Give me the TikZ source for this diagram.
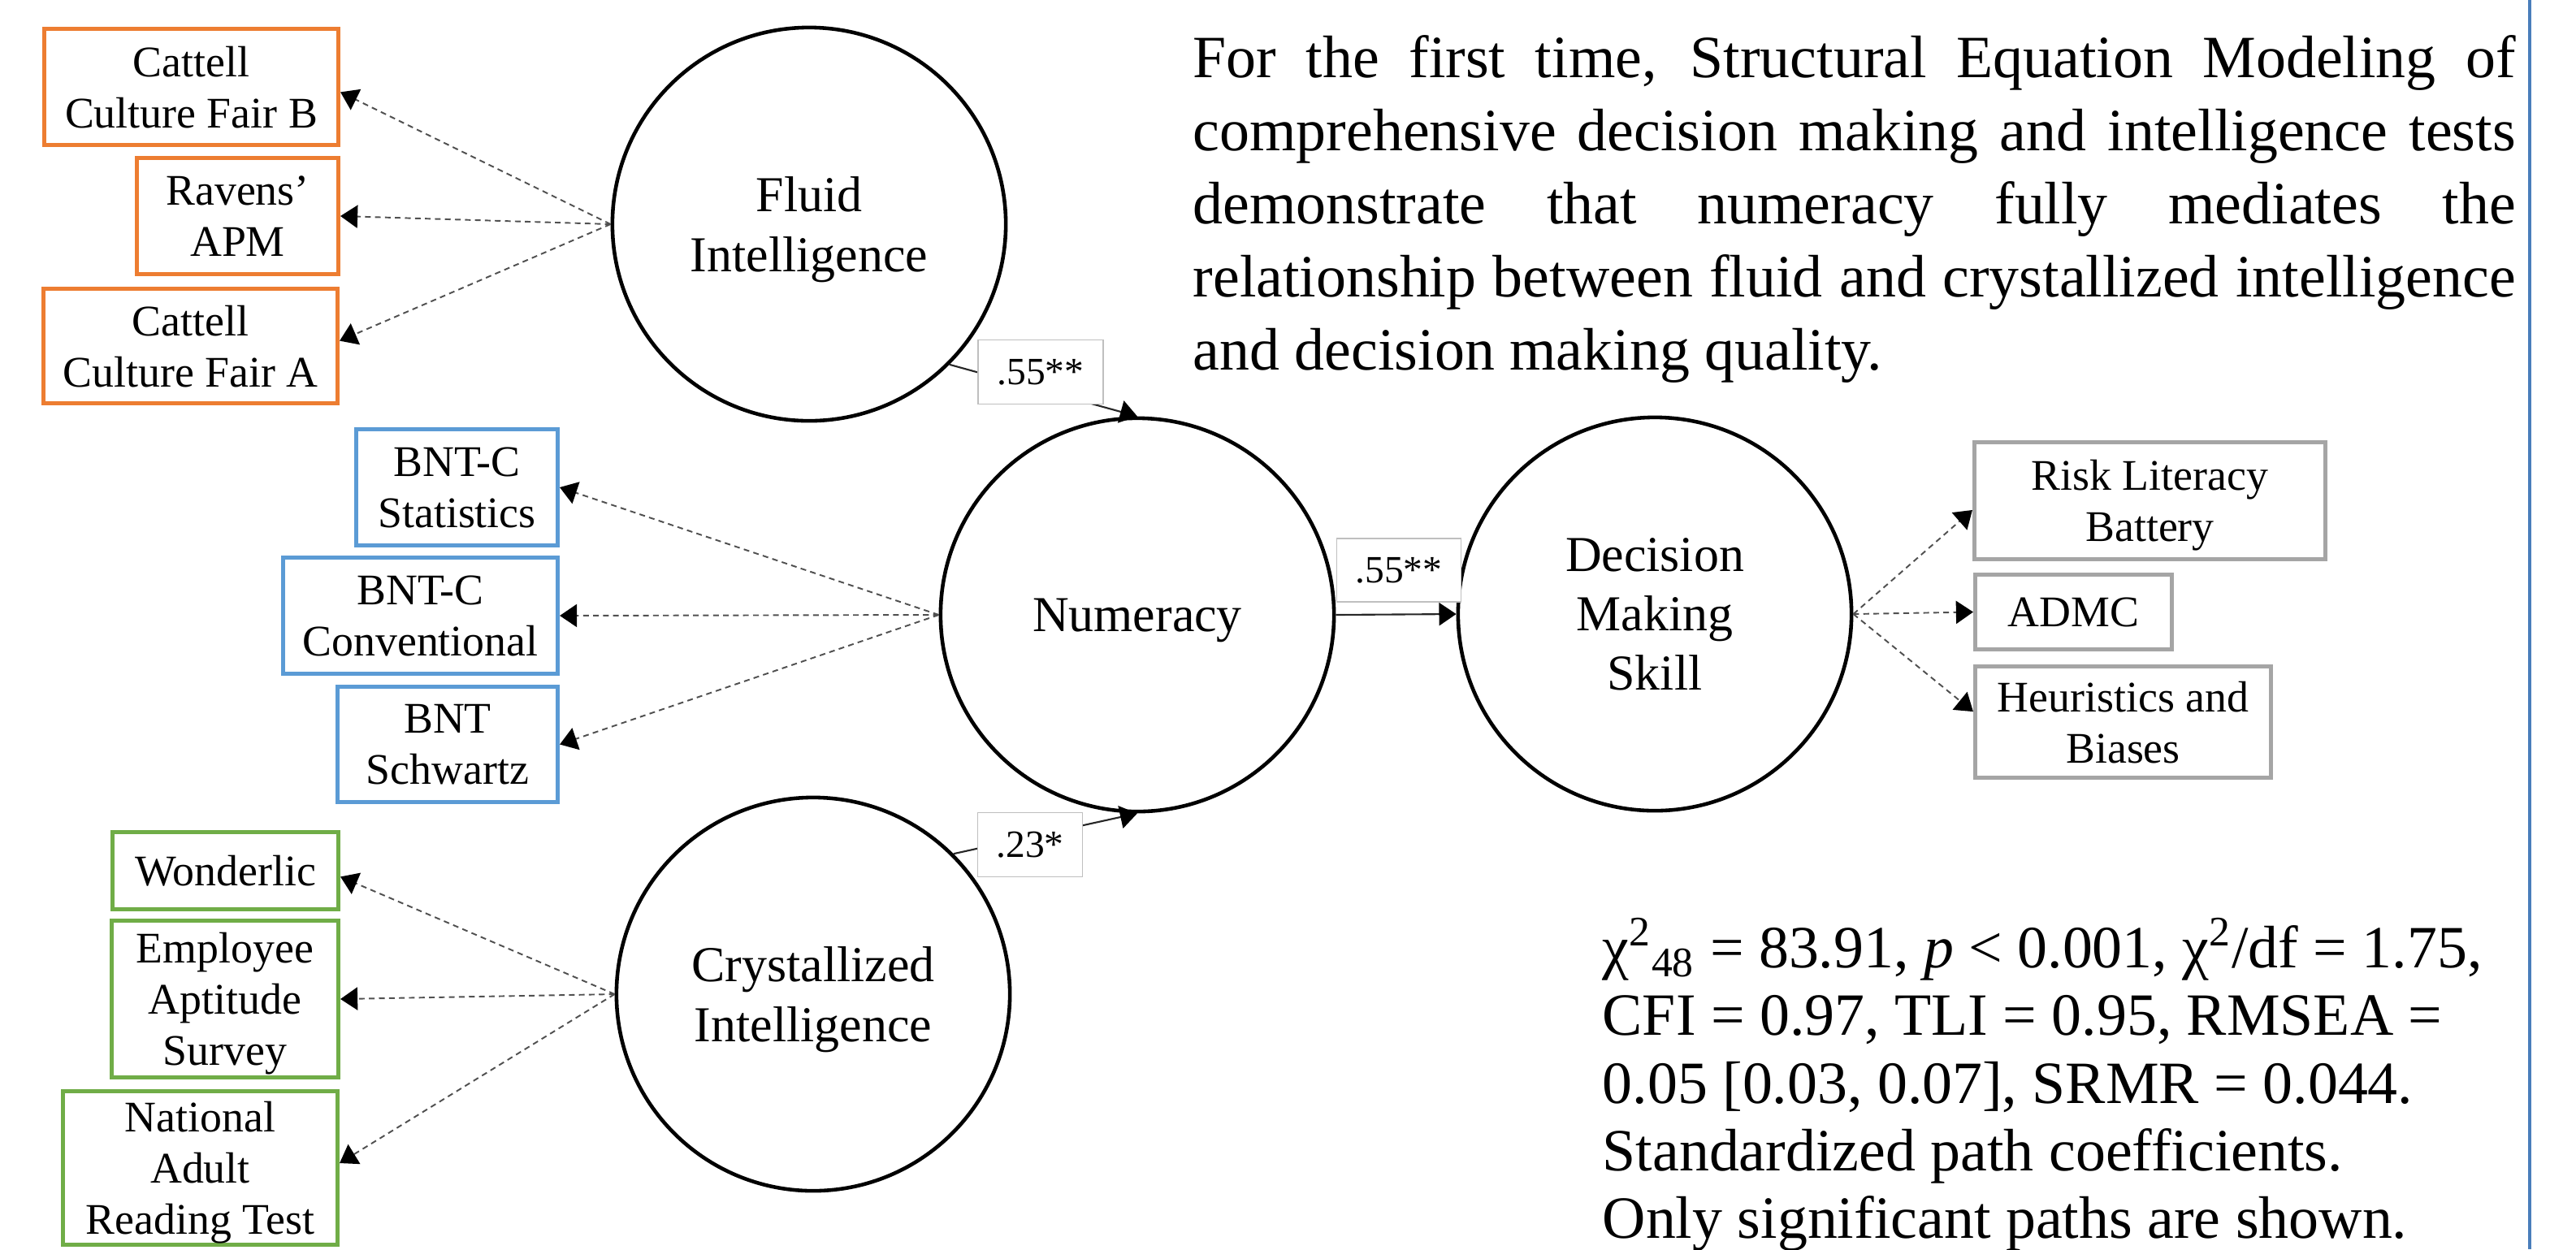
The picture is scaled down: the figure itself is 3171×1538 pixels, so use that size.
\documentclass[tikz,border=0pt]{standalone}
\usepackage{fontspec}
\setmainfont{Liberation Serif}
\usetikzlibrary{arrows.meta}
\definecolor{borange}{RGB}{237,125,49}
\definecolor{bblue}{RGB}{91,155,213}
\definecolor{bgreen}{RGB}{112,173,71}
\definecolor{bgrey}{RGB}{165,165,165}
\definecolor{vlinecol}{RGB}{74,126,187}
\definecolor{lblgrey}{RGB}{191,191,191}
\definecolor{dashgrey}{RGB}{80,80,80}
\tikzset{
  mbox/.style={draw, line width=1.4pt, fill=white, inner sep=0pt, align=center,
    text depth=0pt, font=\fontsize{15.3pt}{18pt}\selectfont},
  obox/.style={mbox, draw=borange},
  bbox/.style={mbox, draw=bblue},
  gbox/.style={mbox, draw=bgreen},
  ybox/.style={mbox, draw=bgrey},
  latent/.style={circle, draw=black, line width=1.3pt, minimum size=4.84cm,
    inner sep=0pt, align=center, text depth=0pt, font=\fontsize{17.6pt}{20.8pt}\selectfont},
  coef/.style={draw=lblgrey, line width=0.45pt, fill=white, inner sep=0pt,
    text depth=0pt, font=\fontsize{13.5pt}{15pt}\selectfont},
  load/.style={draw=dashgrey, line width=0.55pt, dash pattern=on 2pt off 1.5pt,
    -{Triangle[length=6pt,width=8pt,color=black]}},
  regpath/.style={draw=black!85, line width=0.6pt,
    -{Triangle[length=6pt,width=8pt,color=black]}},
  bigtext/.style={inner sep=0pt, font=\fontsize{21pt}{25.6pt}\selectfont}
}
\begin{document}
\begin{tikzpicture}[x=0.01cm,y=-0.01cm]
\fill[white] (0,0) rectangle (3171,1538);
\useasboundingbox (0,0) rectangle (3171,1538);

% right blue rule
\coordinate (vtop) at (3114,0);
\coordinate (vbot) at (3114,1538);
\draw[vlinecol, line width=1.1pt] (vtop) -- (vbot);

% latent variables
\node[latent] (fluid) at (996,276) {Fluid\\Intelligence};
\node[latent] (num) at (1400,757) {Numeracy};
\node[latent] (cryst) at (1001,1224) {Crystallized\\Intelligence};
\node[latent] (dms) at (2037,756) {Decision\\Making\\Skill};

% indicators
\node[obox, minimum width=3.62cm, minimum height=1.43cm] (cattB) at (235.5,107) {Cattell\\Culture Fair B};
\node[obox, minimum width=2.48cm, minimum height=1.43cm] (raven) at (292.5,266) {Ravens’\\APM};
\node[obox, minimum width=3.62cm, minimum height=1.41cm] (cattA) at (234.5,426) {Cattell\\Culture Fair A};

\node[bbox, minimum width=2.48cm, minimum height=1.43cm] (bstat) at (562.5,600) {BNT-C\\Statistics};
\node[bbox, minimum width=3.38cm, minimum height=1.43cm] (bconv) at (517.5,758) {BNT-C\\Conventional};
\node[bbox, minimum width=2.71cm, minimum height=1.42cm] (bschw) at (551,916.5) {BNT\\Schwartz};

\node[gbox, minimum width=2.78cm, minimum height=0.95cm] (wond) at (277.5,1072) {Wonderlic};
\node[gbox, minimum width=2.79cm, minimum height=1.93cm] (eas) at (277,1230) {Employee\\Aptitude\\Survey};
\node[gbox, minimum width=3.38cm, minimum height=1.89cm] (nart) at (246.5,1438) {National\\Adult\\Reading Test};

\node[ybox, minimum width=4.32cm, minimum height=1.44cm] (risk) at (2646.5,616.5) {Risk Literacy\\Battery};
\node[ybox, minimum width=2.42cm, minimum height=0.92cm] (admc) at (2552.5,753.5) {ADMC};
\node[ybox, minimum width=3.64cm, minimum height=1.37cm] (heur) at (2613.5,889) {Heuristics and\\Biases};

% loadings
\draw[load] (fluid.west) -- (cattB.-2);
\draw[load] (fluid.west) -- (raven.east);
\draw[load] (fluid.west) -- (cattA.2);
\draw[load] (num.west) -- (bstat.east);
\draw[load] (num.west) -- (bconv.east);
\draw[load] (num.west) -- (bschw.east);
\draw[load] (cryst.west) -- (wond.-3);
\draw[load] (cryst.west) -- (eas.east);
\draw[load] (cryst.west) -- (nart.2);
\draw[load] (dms.east) -- (risk.183);
\draw[load] (dms.east) -- (admc.west);
\draw[load] (dms.east) -- (heur.176);

% structural paths
\draw[regpath] (fluid.south east) -- (num.north);
\draw[regpath] (cryst.north east) -- (num.south);
\draw[regpath] (num.east) -- (dms.west);

% coefficients
\node[coef, minimum width=1.54cm, minimum height=0.79cm] (c1) at (1281,458) {.55**};
\node[coef, minimum width=1.53cm, minimum height=0.78cm] (c2) at (1722,702) {.55**};
\node[coef, minimum width=1.29cm, minimum height=0.79cm] (c3) at (1268,1040) {.23*};

% texts
\node[bigtext, anchor=north west, text width=16.27cm, align=justify] (claim) at (1468,43)
 {For the first time, Structural Equation Modeling of\linebreak comprehensive decision making and intelligence tests\linebreak demonstrate that numeracy fully mediates the\linebreak relationship between fluid and crystallized intelligence\linebreak and decision making quality.};

\node[bigtext, anchor=north west, align=left, font=\fontsize{21pt}{23.7pt}\selectfont] (fit) at (1972,1130)
 {χ\textsuperscript{2}\textsubscript{48} = 83.91, \textit{p} < 0.001, χ\textsuperscript{2}/df = 1.75,\\
  CFI = 0.97, TLI = 0.95, RMSEA =\\
  0.05 [0.03, 0.07], SRMR = 0.044.\\
  Standardized path coefficients.\\
  Only significant paths are shown.};
\end{tikzpicture}
\end{document}
